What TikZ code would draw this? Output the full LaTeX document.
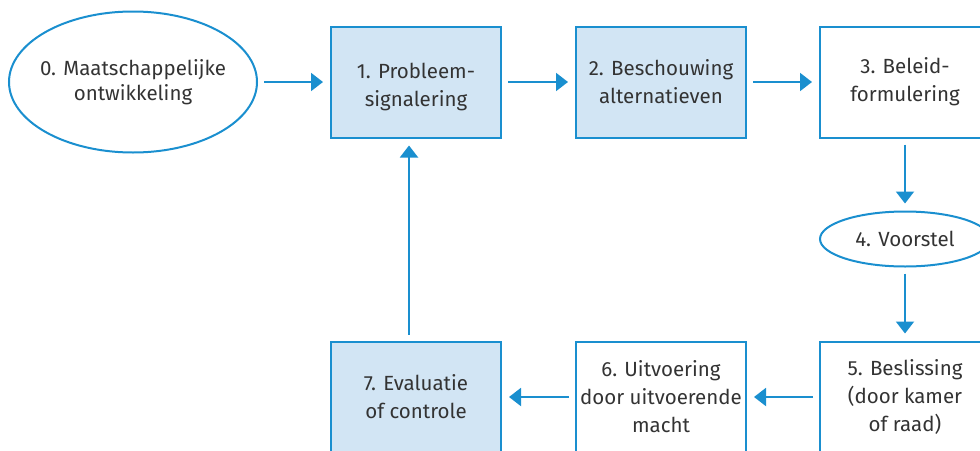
\documentclass[tikz,border=0pt]{standalone}
\usepackage{fontspec}
\setmainfont{Fira Sans}
\usetikzlibrary{shapes.geometric,arrows.meta}
\definecolor{cycleblue}{HTML}{1A8FCF}
\definecolor{cyclefill}{HTML}{D2E5F4}
\definecolor{cycletext}{HTML}{333333}
\begin{document}
\begin{tikzpicture}[x=1pt,y=-1pt,
    phase/.style={draw=cycleblue,line width=2pt,minimum width=170pt,minimum height=111pt,
      inner sep=0pt,align=center,text=cycletext,font=\fontsize{20.5}{28}\selectfont},
    shaded/.style={phase,fill=cyclefill},
    event/.style={ellipse,draw=cycleblue,line width=2pt,inner sep=0pt,align=center,
      text=cycletext,font=\fontsize{20.5}{25}\selectfont},
    flow/.style={draw=cycleblue,line width=2pt,-{Triangle[length=12pt,width=18pt]},
      shorten <=6pt,shorten >=7pt}]
  \useasboundingbox (0,0) rectangle (980,450);
  \clip (0,0) rectangle (980,450);
  \node[event,minimum width=248pt,minimum height=141pt,inner xsep=-10pt] (dev) at (133,82) {0. Maatschappelijke\\ontwikkeling};
  \node[shaded] (sig) at (416,82) {\rule{0pt}{25pt}1. Probleem-\\signalering};
  \node[shaded] (alt) at (661,82) {2. Beschouwing\\alternatieven};
  \node[phase] (form) at (905,82) {3. Beleid-\\formulering};
  \node[event,minimum width=170pt,minimum height=55pt] (prop) at (905,239) {4. Voorstel};
  \node[phase] (dec) at (905,397) {5. Beslissing\\(door kamer\\of raad)};
  \node[phase] (exe) at (661,397) {6. Uitvoering\\door uitvoerende\\macht};
  \node[shaded] (eval) at (416,397) {7. Evaluatie\\of controle};
  \draw[flow] (dev) -- (sig);
  \draw[flow] (sig) -- (alt);
  \draw[flow] (alt) -- (form);
  \draw[flow] (form) -- (prop);
  \draw[flow] (prop) -- (dec);
  \draw[flow] (dec) -- (exe);
  \draw[flow] (exe) -- (eval);
  \draw[flow] ([xshift=-7pt]eval.north) -- ([xshift=-7pt]sig.south);
\end{tikzpicture}
\end{document}
